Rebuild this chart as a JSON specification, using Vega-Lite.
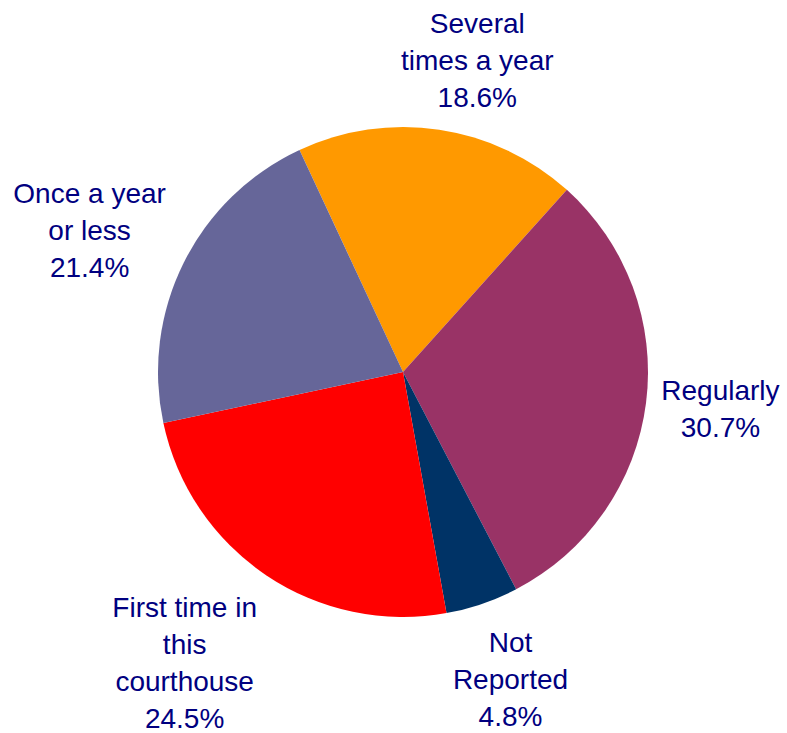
{
  "$schema": "https://vega.github.io/schema/vega-lite/v6.json",
  "width": 768,
  "height": 722,
  "padding": {"left": 19, "top": 11, "right": 0, "bottom": 0},
  "autosize": {"type": "none"},
  "background": "white",
  "view": {"stroke": null},
  "config": {
    "text": {"font": "Liberation Sans", "fontSize": 28, "lineHeight": 37, "lineBreak": "\n", "color": "#000080", "align": "center", "baseline": "alphabetic", "radius": 320}
  },
  "data": {
    "values": [
      {"category": "Several times a year", "order": 1, "pct": 18.6, "label": "Several\ntimes a year\n18.6%"},
      {"category": "Regularly", "order": 2, "pct": 30.7, "label": "Regularly\n30.7%"},
      {"category": "Not Reported", "order": 3, "pct": 4.8, "label": "Not\nReported\n4.8%"},
      {"category": "First time in this courthouse", "order": 4, "pct": 24.5, "label": "First time in\nthis\ncourthouse\n24.5%"},
      {"category": "Once a year or less", "order": 5, "pct": 21.4, "label": "Once a year\nor less\n21.4%"}
    ]
  },
  "encoding": {
    "theta": {"field": "pct", "type": "quantitative", "stack": true, "scale": {"range": [-0.436, 5.847]}},
    "order": {"field": "order", "type": "ordinal"}
  },
  "layer": [
    {
      "mark": {"type": "arc", "outerRadius": 245},
      "encoding": {
        "color": {
          "field": "category",
          "type": "nominal",
          "legend": null,
          "scale": {
            "domain": ["Several times a year", "Regularly", "Not Reported", "First time in this courthouse", "Once a year or less"],
            "range": ["#FF9900", "#993366", "#003366", "#FF0000", "#666699"]
          }
        }
      }
    },
    {
      "mark": {"type": "text", "dx": 27, "dy": -23},
      "encoding": {"text": {"condition": {"test": "datum.category === 'Several times a year'", "field": "label"}, "value": ""}}
    },
    {
      "mark": {"type": "text", "dx": 0, "dy": -12},
      "encoding": {"text": {"condition": {"test": "datum.category === 'Regularly'", "field": "label"}, "value": ""}}
    },
    {
      "mark": {"type": "text", "dx": 4, "dy": -23},
      "encoding": {"text": {"condition": {"test": "datum.category === 'Not Reported'", "field": "label"}, "value": ""}}
    },
    {
      "mark": {"type": "text", "dx": -40, "dy": -21},
      "encoding": {"text": {"condition": {"test": "datum.category === 'First time in this courthouse'", "field": "label"}, "value": ""}}
    },
    {
      "mark": {"type": "text", "dx": -27, "dy": -26},
      "encoding": {"text": {"condition": {"test": "datum.category === 'Once a year or less'", "field": "label"}, "value": ""}}
    }
  ]
}
